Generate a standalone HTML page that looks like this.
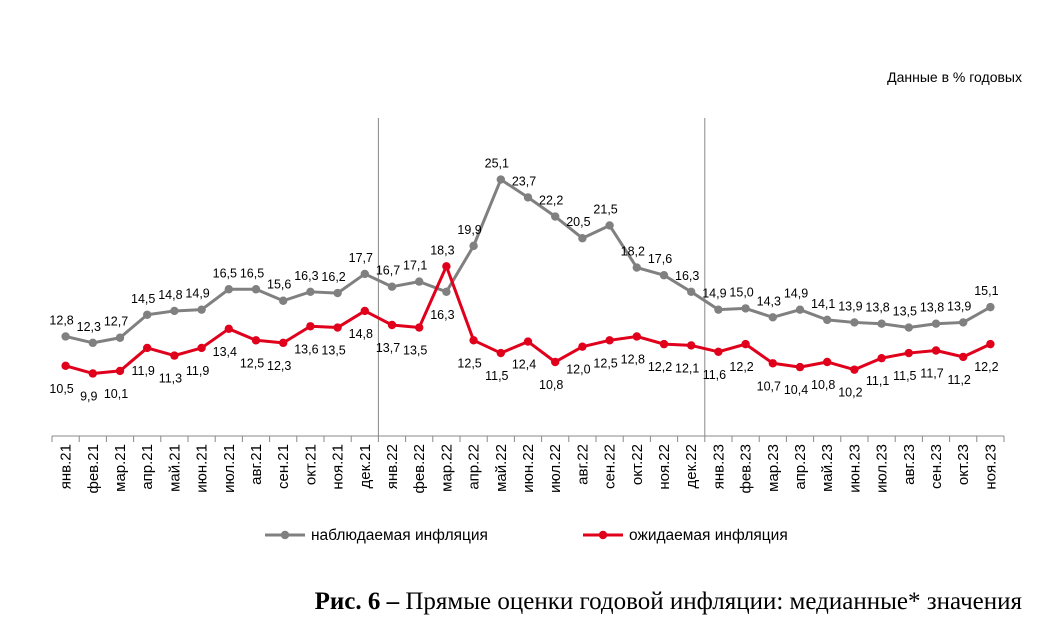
<!DOCTYPE html>
<html><head><meta charset="utf-8"><style>
body{margin:0;background:#fff;width:1054px;height:635px;overflow:hidden}
svg text{font-family:"Liberation Sans",sans-serif}
</style></head><body>
<svg id="c" width="1054" height="635"></svg>
<script>
const categories=["янв.21","фев.21","мар.21","апр.21","май.21","июн.21","июл.21","авг.21","сен.21","окт.21","ноя.21","дек.21","янв.22","фев.22","мар.22","апр.22","май.22","июн.22","июл.22","авг.22","сен.22","окт.22","ноя.22","дек.22","янв.23","фев.23","мар.23","апр.23","май.23","июн.23","июл.23","авг.23","сен.23","окт.23","ноя.23"];
const observed=[12.8,12.3,12.7,14.5,14.8,14.9,16.5,16.5,15.6,16.3,16.2,17.7,16.7,17.1,16.3,19.9,25.1,23.7,22.2,20.5,21.5,18.2,17.6,16.3,14.9,15.0,14.3,14.9,14.1,13.9,13.8,13.5,13.8,13.9,15.1];
const expected=[10.5,9.9,10.1,11.9,11.3,11.9,13.4,12.5,12.3,13.6,13.5,14.8,13.7,13.5,18.3,12.5,11.5,12.4,10.8,12.0,12.5,12.8,12.2,12.1,11.6,12.2,10.7,10.4,10.8,10.2,11.1,11.5,11.7,11.2,12.2];
const yMin=5;
const NS="http://www.w3.org/2000/svg";
const svg=document.getElementById('c');
const x0=52,step=27.2,yBase=436,pxU=12.76;
const X=i=>x0+step*(i+0.5);
const Y=v=>yBase-(v-yMin)*pxU;
function mk(t,a,p){const e=document.createElementNS(NS,t);for(const k in a)e.setAttribute(k,a[k]);(p||svg).appendChild(e);return e;}
const fmt=v=>v.toFixed(1).replace('.',',');
let t=mk('text',{x:1022,y:82,'text-anchor':'end','font-size':14,fill:'#000'});t.textContent='Данные в % годовых';

[12,24].forEach(i=>{const l=mk('line',{x1:x0+step*i,x2:x0+step*i,y1:118,y2:yBase,stroke:'#888','stroke-width':1});
});
const ax=mk('line',{x1:x0,x2:x0+step*categories.length,y1:yBase,y2:yBase,stroke:'#888','stroke-width':1});

for(let i=0;i<=categories.length;i++){mk('line',{x1:x0+step*i,x2:x0+step*i,y1:yBase,y2:yBase+6,stroke:'#888'});}
categories.forEach((c,i)=>{const e=mk('text',{x:0,y:0,'text-anchor':'end','font-size':15,fill:'#000',transform:`translate(${X(i)+5},${yBase+8}) rotate(-90)`});e.textContent=c;
});
function series(vals,color,name,above){
  const d=vals.map((v,i)=>(i?'L':'M')+X(i)+','+Y(v)).join('');
  const p=mk('path',{d,fill:'none',stroke:color,'stroke-width':3,'stroke-linejoin':'round'});
  
  vals.forEach((v,i)=>{const c=mk('circle',{cx:X(i),cy:Y(v),r:4.2,fill:color});
    
    let up=above(i);
    const lb=mk('text',{x:X(i)-4,y:up?Y(v)-12:Y(v)+27,'text-anchor':'middle','font-size':12.5,fill:'#000'});lb.textContent=fmt(v);
    });
}
series(observed,'#808080','observed',i=>i!==14);
series(expected,'#e0001b','expected',i=>i===14);
function leg(x,color,label,name){const g=mk('g',{});
mk('line',{x1:x,x2:x+40,y1:535,y2:535,stroke:color,'stroke-width':3},g);mk('circle',{cx:x+20,cy:535,r:4.2,fill:color},g);
const e=mk('text',{x:x+46,y:540,'font-size':15.5,fill:'#000'},g);e.textContent=label;}
leg(265,'#808080','наблюдаемая инфляция','legend-observed');
leg(583,'#e0001b','ожидаемая инфляция','legend-expected');
const cap=mk('text',{x:1022,y:609,'text-anchor':'end','font-size':25,fill:'#000'});

cap.style.fontFamily='"Liberation Serif",serif';
cap.innerHTML='<tspan font-weight="bold">Рис. 6 –</tspan> Прямые оценки годовой инфляции: медианные* значения';
</script>
</body></html>
